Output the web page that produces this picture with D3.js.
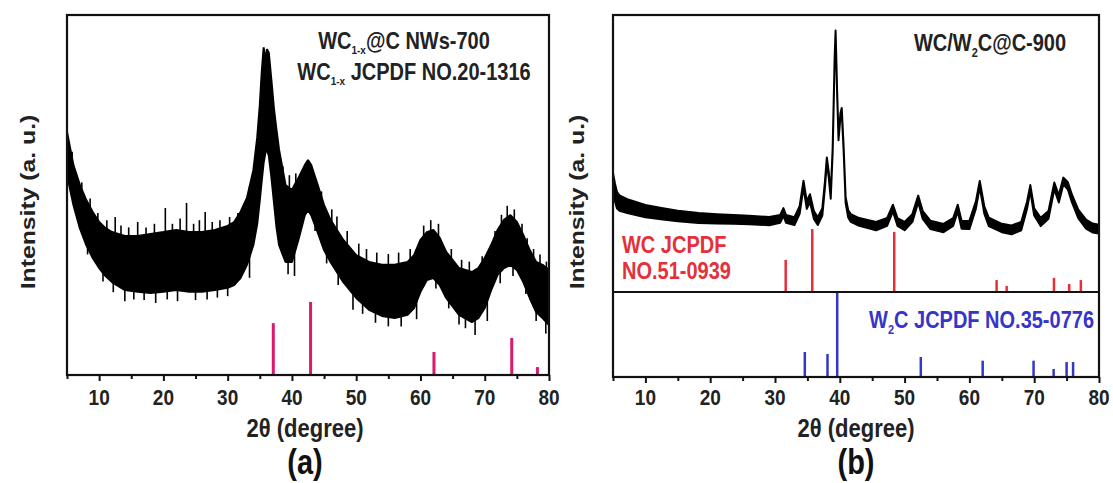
<!DOCTYPE html>
<html><head><meta charset="utf-8">
<script src="https://cdn.jsdelivr.net/npm/d3@7"></script>
<style>
body{margin:0;background:#fff;}
text{font-family:"Liberation Sans",Arial,sans-serif;font-weight:bold;}
</style></head>
<body><svg id="c" width="1113" height="483"></svg>
<script>
// ---------- Data: panel (a) WC1-x@C NWs-700 (noisy band: upper / lower envelope) ----------
const thetaA = [5,6,7,8,9,10,11,12,14,16,18,20,22,24,26,28,30,31,32,33,34,34.6,35,35.3,35.6,35.9,36.1,36.4,36.8,37.2,37.6,38,39,40,41,42,42.5,43,44,45,46,48,50,52,54,56,58,59,60,61,62,63,64,66,68,69,70,71,72,73,74,75,76,77,78,79,80];
const upperA = [67.5,58.3,52.8,48.6,45.3,42.5,40.8,39.7,38.6,38.6,39.2,39.7,40.3,39.7,39.7,40.3,41.4,42.5,45.3,49.2,56.9,66,75,84,91,87,90.5,89.5,82,74,68,62.5,52.8,51.4,54.7,58.3,59.7,58.3,52.8,47.2,43.1,37.5,33.3,31.4,30.6,30.6,31.4,33.3,37.5,39.7,40.3,38.1,34.2,29.7,28.6,29.7,32.5,36.1,40.3,43.1,44.4,42.5,38.9,34.7,31.4,30.6,29.2];
const lowerA = [55.6,47.2,40.8,36.1,32.5,29.7,27.5,25.8,23.6,23.1,22.8,23.1,23.6,23.1,23.1,23.6,24.2,25.0,26.9,30.6,36.1,42,48.6,54,59,62,62.5,61,55,48,41,36.1,31.4,31.4,37.5,44.4,45.8,44.4,39.7,34.7,31.4,25.8,21.4,18.1,16.4,15.8,16.7,18.6,23.1,26.4,26.9,25.0,21.4,16.7,14.7,15.8,18.6,23.6,27.8,29.7,30.6,29.2,25.8,21.4,17.5,15.8,13.9];
// visible noise spikes [2theta, tip intensity]
const spikeUpA = [[5.8,62],[7.3,53.5],[8.6,49],[9.8,45],[11.2,43],[12.5,43.9],[13.4,41.5],[14.6,41],[16,42.5],[17.3,41],[18.6,42],[20.3,46.4],[21.4,42],[22.6,43.5],[23.6,47.8],[24.7,42],[25.6,43],[26.5,45.3],[27.6,42.5],[28.8,43],[30.3,43.9],[31.6,45],[38.6,58],[39.6,55.5],[40.6,56],[44.6,51],[46.2,46],[47,44],[48.6,40],[50.4,36.5],[51.6,35],[53.2,34],[55,33.6],[56.6,34],[58.4,35],[60.5,41.5],[61.6,43],[62.8,42],[64.8,35],[66.4,32],[67.6,31.5],[69.6,33],[71.6,40],[72.6,44.5],[73.5,47],[74.6,46],[75.8,42],[76.6,38],[77.6,35],[78.6,33.5],[79.6,31.5]];
const spikeDownA = [[6.4,48],[8.2,33.5],[10.6,26],[12.2,23],[14,20.5],[15.4,21],[17,20.8],[18.8,20],[20.6,21],[22.2,20.5],[25,20.8],[26.8,21],[28.4,21.5],[30,21.9],[33.4,27],[39.4,28],[40.4,27.5],[43.6,40],[45.4,31],[47.2,25],[49.5,18.1],[51,17],[53,14.5],[55,13.5],[57,13.5],[59.4,15.5],[62.4,24],[64.4,18.5],[66,14],[67,13],[68.5,11.1],[70.4,15],[72.4,25.5],[74.4,27.5],[76.4,22.5],[78,15],[79.5,11.5]];
// reference sticks WC1-x JCPDF 20-1316
const stickThetaA = [37.1,42.9,62.1,74.2,78.2];
const stickIntA = [14.4,20.3,6.4,10.3,2.2];

// ---------- Data: panel (b) WC/W2C@C-900 ----------
const thetaB = [5,5.3,5.6,6,7.2,10,12.7,15,18.2,21,23.6,26,29.1,30.8,31.3,31.7,33,33.8,34.4,34.9,35.4,36,36.6,37.3,37.7,38,38.3,38.6,38.9,39.2,39.35,39.6,39.8,40.1,40.3,40.6,40.9,41.3,41.7,43,45.6,47.3,48.2,48.9,50,51.2,52.1,52.8,54,56,57.5,58.2,58.8,60,61,61.6,62.3,63,65,66.5,68,68.9,69.4,70,71,72.2,73.1,73.8,74.5,75.2,75.8,76.8,78,79,80];
const intB = [39.5,36,33.2,32.1,31.0,29.2,28.2,27.4,26.7,26.4,26.2,26.0,25.6,26.4,28.9,26.4,25.6,29.6,39.0,31.4,33.9,27.8,25.6,28.9,38.6,47.7,42.2,34.7,51.3,83.8,93.9,71.1,55.6,63.9,65.7,51.3,33.2,28.2,26.7,25.3,23.8,25.3,30.3,25.3,23.8,26.7,33.6,27.8,24.2,23.1,25.3,30.3,24.2,24.2,31.4,39.0,29.6,25.3,23.1,22.4,23.8,31.4,37.5,28.9,25.3,27.8,38.3,33.6,40.1,38.3,33.9,28.2,24.5,23.1,22.7];
// half-thickness of the noisy trace (intensity units)
const noiseB = [3.4,3.2,3,2.8,2.5,2.2,2,1.9,1.8,1.7,1.6,1.5,1.5,1.4,1.4,1.4,1.4,1.4,1.2,1.4,1.4,1.4,1.4,1.3,1.1,0.9,1,1,0.8,0.6,0.5,0.6,0.8,0.7,0.7,0.8,1,1.3,1.4,1.4,1.5,1.4,1.2,1.4,1.5,1.4,1.2,1.4,1.5,1.5,1.4,1.2,1.4,1.5,1.3,1.1,1.3,1.5,1.5,1.6,1.5,1.3,1.1,1.3,1.5,1.4,1.2,1.3,1.2,1.3,1.4,1.5,1.6,1.6,1.6];
const wcTheta = [31.65,35.75,48.4,64.2,65.75,73.05,75.4,77.2];
const wcInt = [11.6,22.7,21.7,4.3,2.2,5.1,2.9,4.3];
const w2cTheta = [34.6,38.1,39.6,52.5,62.05,69.9,73.0,75.0,76.0];
const w2cInt = [29.4,27.1,100,23.5,19.2,19.2,9.4,17.6,17.6];

const xTicks = [10,20,30,40,50,60,70,80];
const xMinor = [5,15,25,35,45,55,65,75];

const SY = 1.18; // vertical stretch of the original lettering
const svg = d3.select("#c");

function txt(g, x, y, size, fill, anchor){
  return g.append("text").attr("transform",`translate(${x},${y}) scale(1,${SY})`)
    .attr("text-anchor",anchor||"start").attr("font-size",size).attr("fill",fill);
}

function drawAxisX(g, x, y0, label, letter, cx){
  const ax = d3.axisBottom(x).tickValues(xTicks).tickSize(6).tickFormat("");
  const a = g.append("g").attr("transform",`translate(0,${y0})`).call(ax);
  a.select(".domain").remove();
  a.selectAll("line").attr("stroke","#111").attr("stroke-width",2);
  const m = d3.axisBottom(x).tickValues(xMinor).tickSize(4).tickFormat("");
  const mm = g.append("g").attr("transform",`translate(0,${y0})`).call(m);
  mm.select(".domain").remove();
  mm.selectAll("line").attr("stroke","#111").attr("stroke-width",2);
  xTicks.forEach(t => txt(g, x(t), 405, 19, "#222", "middle").text(d3.format("d")(t)));
  txt(g,cx,437,22,"#222","middle").text(label);
  txt(g,cx,474,29,"#111","middle").text(letter);
}

function frame(g,l,r,t,b){
  g.append("rect").attr("x",l).attr("y",t).attr("width",r-l).attr("height",b-t)
   .attr("fill","none").attr("stroke","#111").attr("stroke-width",2.2);
}

function yLabel(g, cx){
  g.append("text").attr("transform",`translate(${cx+8},202) rotate(-90) scale(${SY},1)`).attr("text-anchor","middle")
   .attr("font-size",21).attr("fill","#222").text("Intensity (a. u.)");
}

// ---------------- Panel (a) ----------------
{
  const L=67,R=549,T=15,B=375;
  const g = svg.append("g");
  const x = d3.scaleLinear().domain([5,80]).range([L,R]);
  const y = d3.scaleLinear().domain([0,100]).range([B,T]);
  const band = thetaA.map((t,i)=>({t,u:upperA[i],l:lowerA[i]}));
  const area = d3.area().x(d=>x(d.t)).y0(d=>y(d.l)).y1(d=>y(d.u));
  g.append("path").datum(band).attr("d",area).attr("fill","#000").attr("stroke","#000").attr("stroke-width",2).attr("stroke-linejoin","bevel");
  const interpU = d3.scaleLinear().domain(thetaA).range(upperA);
  const interpL = d3.scaleLinear().domain(thetaA).range(lowerA);
  g.selectAll(".su").data(spikeUpA).join("line").attr("x1",d=>x(d[0])).attr("x2",d=>x(d[0]))
   .attr("y1",d=>y(interpL(d[0]))).attr("y2",d=>y(d[1])).attr("stroke","#000").attr("stroke-width",1.6);
  g.selectAll(".sd").data(spikeDownA).join("line").attr("x1",d=>x(d[0])).attr("x2",d=>x(d[0]))
   .attr("y1",d=>y(interpU(d[0]))).attr("y2",d=>y(d[1])).attr("stroke","#000").attr("stroke-width",1.6);
  g.selectAll(".stk").data(stickThetaA.map((t,i)=>[t,stickIntA[i]])).join("line")
   .attr("x1",d=>x(d[0])).attr("x2",d=>x(d[0])).attr("y1",y(0)).attr("y2",d=>y(d[1]))
   .attr("stroke","#d81b6c").attr("stroke-width",3);
  frame(g,L,R,T,B);
  drawAxisX(g,x,B,"2θ (degree)","(a)",305);
  yLabel(g,27);
  const t1 = txt(g,404,49,20,"#222","middle");
  t1.append("tspan").text("WC");
  t1.append("tspan").attr("font-size",10).attr("dy",4).text("1-x");
  t1.append("tspan").attr("dy",-4).text("@C NWs-700");
  const t2 = txt(g,414,80,20,"#222","middle");
  t2.append("tspan").text("WC");
  t2.append("tspan").attr("font-size",10).attr("dy",4).text("1-x");
  t2.append("tspan").attr("dy",-4).text(" JCPDF NO.20-1316");
}

// ---------------- Panel (b) ----------------
{
  const L=613,R=1099,T=15,B=377,D=292;
  const g = svg.append("g");
  const x = d3.scaleLinear().domain([5,80]).range([L,R]);
  const yU = d3.scaleLinear().domain([0,100]).range([D,T]);
  const yL = d3.scaleLinear().domain([0,100]).range([B,D]);
  const area = d3.area().x((d,i)=>x(thetaB[i])).y0((d,i)=>yU(d-noiseB[i])).y1((d,i)=>yU(d+noiseB[i]));
  g.append("path").datum(intB).attr("d",area).attr("fill","#000").attr("stroke","#000").attr("stroke-width",2).attr("stroke-linejoin","round");
  g.selectAll(".wc").data(wcTheta.map((t,i)=>[t,wcInt[i]])).join("line")
   .attr("x1",d=>x(d[0])).attr("x2",d=>x(d[0])).attr("y1",yU(0)).attr("y2",d=>yU(d[1]))
   .attr("stroke","#e5303a").attr("stroke-width",2.5);
  g.selectAll(".w2c").data(w2cTheta.map((t,i)=>[t,w2cInt[i]])).join("line")
   .attr("x1",d=>x(d[0])).attr("x2",d=>x(d[0])).attr("y1",yL(0)).attr("y2",d=>yL(d[1]))
   .attr("stroke","#3535c8").attr("stroke-width",2.5);
  frame(g,L,R,T,B);
  g.append("line").attr("x1",L).attr("x2",R).attr("y1",D).attr("y2",D).attr("stroke","#111").attr("stroke-width",2.2);
  drawAxisX(g,x,B,"2θ (degree)","(b)",856);
  yLabel(g,576);
  const t1 = txt(g,990,51,20,"#222","middle");
  t1.append("tspan").text("WC/W");
  t1.append("tspan").attr("font-size",11).attr("dy",5).text("2");
  t1.append("tspan").attr("dy",-5).text("C@C-900");
  txt(g,622,253,20,"#e5303a").text("WC JCPDF");
  txt(g,622,279,20,"#e5303a").text("NO.51-0939");
  const t3 = txt(g,1094,328,20,"#3535c8","end");
  t3.append("tspan").text("W");
  t3.append("tspan").attr("font-size",11).attr("dy",5).text("2");
  t3.append("tspan").attr("dy",-5).text("C JCPDF NO.35-0776");
}
</script></body></html>
